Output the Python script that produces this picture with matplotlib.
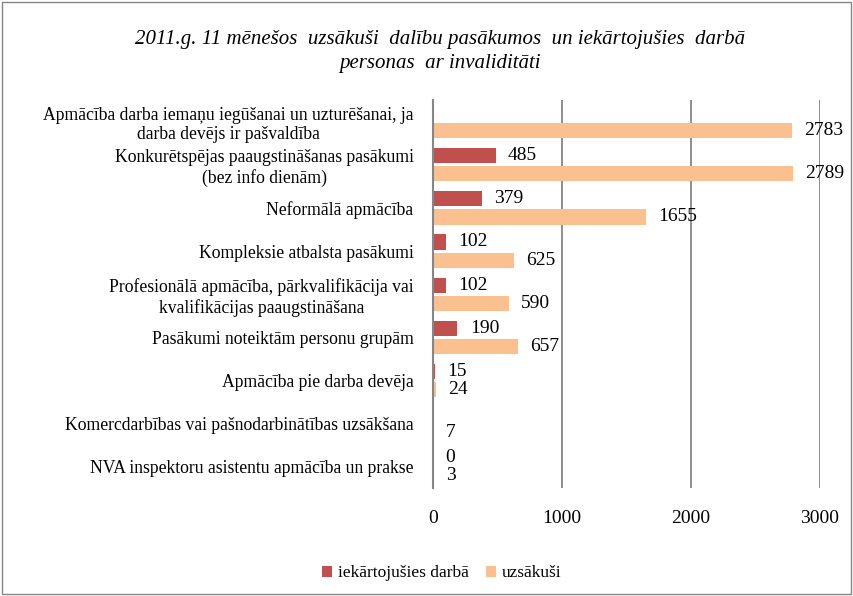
import numpy as np
import matplotlib.pyplot as plt
from matplotlib.patches import Rectangle

plt.rcParams['font.family'] = ['Liberation Serif', 'DejaVu Serif']

categories = [
    "Apmācība darba iemaņu iegūšanai un uzturēšanai, ja\ndarba devējs ir pašvaldība",
    "Konkurētspējas paaugstināšanas pasākumi\n(bez info dienām)",
    "Neformālā apmācība",
    "Kompleksie atbalsta pasākumi",
    "Profesionālā apmācība, pārkvalifikācija vai\nkvalifikācijas paaugstināšana",
    "Pasākumi noteiktām personu grupām",
    "Apmācība pie darba devēja",
    "Komercdarbības vai pašnodarbinātības uzsākšana",
    "NVA inspektoru asistentu apmācība un prakse",
]
employed = [np.nan, 485, 379, 102, 102, 190, 15, np.nan, 0]   # iekārtojušies darbā
started = [2783, 2789, 1655, 625, 590, 657, 24, 7, 3]        # uzsākuši
xticks = [0, 1000, 2000, 3000]

red = '#c0504d'
orange = '#fac090'

fig = plt.figure(figsize=(8.54, 5.96), dpi=100)
ax = fig.add_axes([0.507, 0.181, 0.453, 0.651])

y = np.arange(len(categories))
h = 0.35
off = 0.21
emp = np.array(employed, dtype=float)
ax.barh(y - off, np.nan_to_num(emp), height=h, color=red, label='iekārtojušies darbā')
ax.barh(y + off, started, height=h, color=orange, label='uzsākuši')

for i in range(len(categories)):
    if not np.isnan(emp[i]):
        ax.text(emp[i] + 95, y[i] - off, f"{int(emp[i])}", va='center', ha='left', fontsize=14)
    ax.text(started[i] + 95, y[i] + off, f"{started[i]}", va='center', ha='left', fontsize=14)

ax.set_xlim(0, 3000)
ax.set_ylim(len(categories) - 0.5, -0.5)
ax.set_xticks(xticks)
ax.set_xticklabels([str(t) for t in xticks], fontsize=14)
ax.set_yticks(y)
ax.set_yticklabels(categories, fontsize=12.7, multialignment='center')
ax.tick_params(axis='both', length=0)
ax.tick_params(axis='y', pad=14)
ax.tick_params(axis='x', pad=16)
for s in ['top', 'right', 'bottom']:
    ax.spines[s].set_visible(False)
ax.spines['left'].set_color('#868686')
ax.spines['left'].set_linewidth(1.5)
ax.xaxis.grid(True, color='#868686', linewidth=1.3)
ax.set_axisbelow(True)

fig.suptitle("2011.g. 11 mēnešos  uzsākuši  dalību pasākumos  un iekārtojušies  darbā\npersonas  ar invaliditāti",
             x=0.515, y=0.95, fontsize=15, style='italic', linespacing=1.35)

fig.legend(loc='center', bbox_to_anchor=(0.517, 0.038), ncol=2, frameon=False,
           prop={'family': 'Liberation Serif', 'size': 12.5},
           handlelength=0.6, handleheight=0.6, handletextpad=0.3, columnspacing=1.0)

fig.patches.append(Rectangle((0.002, 0.003), 0.994, 0.994, transform=fig.transFigure,
                             fill=False, edgecolor='#868686', linewidth=1))

fig.savefig('out.png', dpi=100)
